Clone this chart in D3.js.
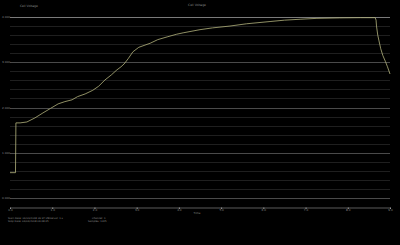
<!DOCTYPE html>
<html>
<head>
<meta charset="utf-8">
<script src="https://cdn.jsdelivr.net/npm/d3@7"></script>
<style>
  body { margin: 0; background: #000; }
  text { font-family: "DejaVu Sans", sans-serif; fill: #8a8a8a; }
</style>
</head>
<body>
<div class="chart"></div>
<script>
// data
var times = [0, 1.3, 1.4, 2.4, 4.0, 5.9, 7.8, 9.6, 11.4, 13.0, 14.7, 16.0, 17.8, 19.6, 21.0, 22.5, 24.0, 25.3, 26.3, 27.0,
             28.0, 29.1, 30.5, 33.2, 35.0, 37.2, 39.5, 41.0, 45.0, 48.0, 52.1, 56.0, 61.6, 65.0, 68.7, 72.7, 78.0, 83.0, 86.5,
             86.7, 86.8, 87.1, 87.4, 87.8, 88.3, 88.9, 89.4, 90.0];
var values = [0.56, 0.56, 1.66, 1.66, 1.68, 1.77, 1.88, 1.98, 2.08, 2.13, 2.17, 2.24, 2.30, 2.38, 2.47, 2.61, 2.72, 2.83, 2.90, 2.96,
              3.08, 3.23, 3.33, 3.42, 3.50, 3.56, 3.62, 3.65, 3.72, 3.76, 3.80, 3.85, 3.90, 3.93, 3.95, 3.97, 3.98, 3.985, 3.985,
              3.93, 3.80, 3.60, 3.47, 3.30, 3.15, 3.02, 2.90, 2.74];
var yTicks = [0, 1, 2, 3, 4];
var yTickLabels = ["0.000", "1.000", "2.000", "3.000", "4.000"];
var xTicks = [0, 10, 20, 30, 40, 50, 60, 70, 80, 90];

var svgWidth = 400;
var svgHeight = 245;

var svg = d3.select(".chart").append("svg")
  .attr("width", svgWidth)
  .attr("height", svgHeight)
  .style("display", "block")
  .style("background", "#000");

var xScale = d3.scaleLinear().domain([0, 90]).range([10, 390]);
var yScale = d3.scaleLinear().domain([0, 4]).range([198, 17]);

// title and legend
svg.append("text").attr("x", 197).attr("y", 6).attr("text-anchor", "middle")
  .style("font-size", "3px").text("Cell Voltage");
svg.append("text").attr("x", 20).attr("y", 7)
  .style("font-size", "3px").text("Cell Voltage");

// grid: minor lines every 0.2, major every 1
var minor = d3.range(0, 4.01, 0.2);
svg.append("g").selectAll("line")
  .data(minor)
  .enter().append("line")
  .attr("x1", 10).attr("x2", 390)
  .attr("y1", function(d) { return Math.round(yScale(d)) + 0.5; })
  .attr("y2", function(d) { return Math.round(yScale(d)) + 0.5; })
  .attr("stroke", function(d) {
    if (d > 3.99) return "#7a7a7a";
    return Math.abs(d - Math.round(d)) < 0.01 ? "#4a4a4a" : "#1f1f1f";
  })
  .attr("stroke-width", 1);

// y labels
svg.append("g").selectAll("text")
  .data(yTicks)
  .enter().append("text")
  .attr("x", 2)
  .attr("y", function(d) { return yScale(d) + 1; })
  .style("font-size", "2.8px")
  .text(function(d, i) { return yTickLabels[i]; });

// x axis
var xAxis = d3.axisBottom(xScale).tickValues(xTicks).tickSize(1.5).tickPadding(0.5)
  .tickFormat(function(d) { return d3.format(".1f")(d / 10); });
var gx = svg.append("g").attr("transform", "translate(0,207.5)").call(xAxis);
gx.select(".domain").attr("stroke", "#5a5a5a");
gx.selectAll(".tick line").attr("stroke", "#999");
gx.selectAll(".tick text").style("font-size", "2.8px").attr("fill", "#8a8a8a");

svg.append("text").attr("x", 197).attr("y", 213.5).attr("text-anchor", "middle")
  .style("font-size", "2.8px").text("Time");

// info text under the chart
svg.append("text").attr("x", 8).attr("y", 219).style("font-size", "2.5px")
  .text("Start Date:  06/06/2018 09:37:05");
svg.append("text").attr("x", 48).attr("y", 219).style("font-size", "2.5px")
  .text("Interval:  1 s");
svg.append("text").attr("x", 8).attr("y", 222).style("font-size", "2.5px")
  .text("Stop Date:  06/06/2018 09:38:35");
svg.append("text").attr("x", 92).attr("y", 219).style("font-size", "2.5px")
  .text("Channel: 1");
svg.append("text").attr("x", 88).attr("y", 222).style("font-size", "2.5px")
  .text("Samples:  1325");

// the curve
var line = d3.line()
  .x(function(d, i) { return xScale(times[i]); })
  .y(function(d) { return yScale(d); });

svg.append("path")
  .datum(values)
  .attr("d", line)
  .attr("fill", "none")
  .attr("stroke", "#b4b47e")
  .attr("stroke-width", 0.8);
</script>
</body>
</html>
